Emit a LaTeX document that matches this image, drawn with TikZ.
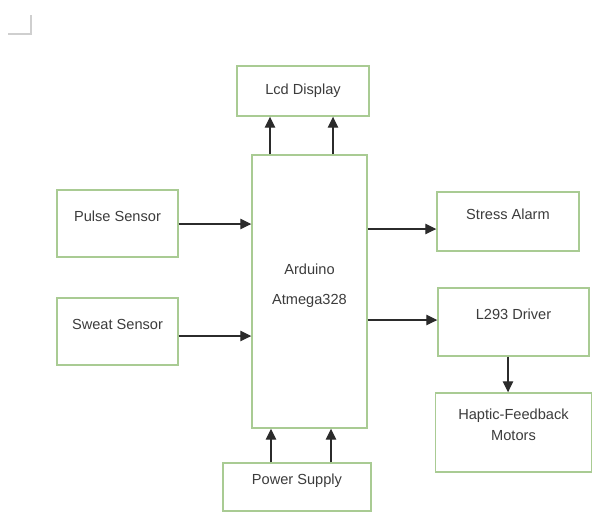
\documentclass[tikz,border=0pt]{standalone}
\usepackage{fontspec}
\setmainfont{Liberation Sans}
\usetikzlibrary{arrows.meta, positioning, calc}

\definecolor{boxgreen}{HTML}{A9CB93}
\definecolor{txtgrey}{HTML}{3C3C3C}
\definecolor{arrgrey}{HTML}{2B2B2B}
\definecolor{markgrey}{HTML}{CFCFCF}

\begin{document}
\begin{tikzpicture}[
    x=1pt, y=-1pt,
    >={Triangle[length=11pt, width=10.5pt]},
    font=\fontsize{14.6}{21}\selectfont,
    block/.style={
        draw=boxgreen,
        line width=1.4pt,
        fill=white,
        text=txtgrey,
        inner sep=0pt,
        text depth=15pt,
        align=center
    },
    link/.style={line width=1.3pt, draw=arrgrey, ->}
]
\useasboundingbox (0,0) rectangle (594,512);

% ---------------- Corner mark ----------------
\draw[markgrey, line width=1.2pt] (31,15) -- (31,34) -- (8,34);

% ---------------- Nodes ----------------
\node[block, minimum width=132pt, minimum height=50pt, text depth=3pt]
                         (lcd)    at (303, 91)    {Lcd Display};
\node[block, minimum width=115pt, minimum height=273pt]
                         (ard)    at (309.5, 291.5) {Arduino\\[9pt]Atmega328};

\node[block, minimum width=121pt, minimum height=67pt]
                         (pulse)  at (117.5, 223.5) {Pulse Sensor};
\node[block, minimum width=121pt, minimum height=67pt]
                         (sweat)  at (117.5, 331.5) {Sweat Sensor};

\node[block, minimum width=142pt, minimum height=59pt]
                         (alarm)  at (508, 221.5)  {Stress Alarm};
\node[block, minimum width=151pt, minimum height=68pt]
                         (driver) at (513.5, 322)  {L293 Driver};
\node[block, minimum width=156pt, minimum height=79pt]
                         (motors) at (513.5, 432.5) {Haptic-Feedback\\Motors};

\node[block, minimum width=148pt, minimum height=48pt]
                         (power)  at (297, 487)    {Power Supply};

% ---------------- Inputs ----------------
\draw[link] ([yshift=-0.5pt]pulse.east) -- ([yshift=-0.5pt]pulse.east -| ard.west);
\draw[link] ([yshift=-4.5pt]sweat.east) -- ([yshift=-4.5pt]sweat.east -| ard.west);

% ---------------- Outputs ----------------
\draw[link] ([xshift=-33pt]lcd.south |- ard.north) -- ([xshift=-33pt]lcd.south);
\draw[link] ([xshift=30pt]lcd.south |- ard.north) -- ([xshift=30pt]lcd.south);

\draw[link] ([yshift=-7.5pt]alarm.west -| ard.east) -- ([yshift=-7.5pt]alarm.west);
\draw[link] ([yshift=2pt]driver.west -| ard.east) -- ([yshift=2pt]driver.west);
\draw[link] ([xshift=-5.5pt]driver.south) -- ([xshift=-5.5pt]driver.south |- motors.north);

% ---------------- Power ----------------
\draw[link] ([xshift=-26pt]power.north) -- ([xshift=-26pt]power.north |- ard.south);
\draw[link] ([xshift=34pt]power.north) -- ([xshift=34pt]power.north |- ard.south);

\end{tikzpicture}
\end{document}
